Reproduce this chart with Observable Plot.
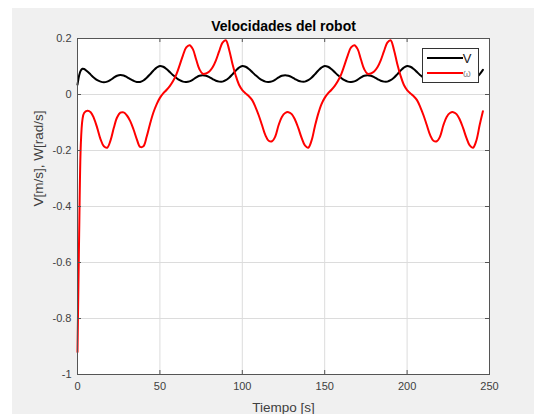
<!DOCTYPE html>
<html><head><meta charset="utf-8">
<script src="https://cdn.jsdelivr.net/npm/d3@7"></script>
<script src="https://cdn.jsdelivr.net/npm/@observablehq/plot@0.6"></script>
<style>
body{margin:0;background:#fff;}
#wrap{position:relative;width:534px;height:414px;overflow:hidden;}
#bg{position:absolute;left:12px;top:8px;width:522px;height:406px;background:#f0f0f0;}
#chart{position:absolute;left:0;top:0;}
</style></head><body>
<div id="wrap"><div id="bg"></div><div id="chart"></div></div>
<script>
const time = [0,1,2,3,4,6,8,10,12,14,16,18,20,22,24,26,28,30,32,34,36,38,40,42,44,46,48,50,
 52,54,56,58,60,62,64,66,68,70,72,74,76,78,80,82,84,86,88,90,92,94,96,98,100,
 102,104,106,108,110,112,114,116,118,120,122,124,126,128,130,132,134,136,138,140,142,144,146,148,150,
 152,154,156,158,160,162,164,166,168,170,172,174,176,178,180,182,184,186,188,190,192,194,196,198,200,
 202,204,206,208,210,212,214,216,218,220,222,224,226,228,230,232,234,236,238,240,242,244,246];

const V = [0.035,0.068,0.086,0.092,0.091,0.082,0.071,0.06,0.051,0.046,0.044,0.046,0.052,0.06,0.067,0.07,0.068,0.062,0.055,0.049,0.045,0.045,0.05,0.06,0.072,0.085,0.096,0.102,
 0.099,0.091,0.08,0.069,0.059,0.051,0.046,0.045,0.047,0.053,0.061,0.067,0.069,0.067,0.062,0.055,0.049,0.046,0.046,0.051,0.06,0.072,0.085,0.096,0.102,
 0.099,0.091,0.08,0.069,0.059,0.051,0.046,0.045,0.047,0.053,0.061,0.067,0.069,0.067,0.062,0.055,0.049,0.046,0.046,0.051,0.06,0.072,0.085,0.096,0.102,
 0.099,0.091,0.08,0.069,0.059,0.051,0.046,0.045,0.047,0.053,0.061,0.067,0.069,0.067,0.062,0.055,0.049,0.046,0.046,0.051,0.06,0.072,0.085,0.096,0.102,
 0.099,0.091,0.08,0.069,0.059,0.051,0.046,0.045,0.047,0.053,0.061,0.067,0.069,0.067,0.062,0.055,0.049,0.046,0.046,0.051,0.06,0.072,0.088];

const W = [-0.92,-0.5,-0.18,-0.09,-0.066,-0.058,-0.063,-0.085,-0.12,-0.16,-0.185,-0.19,-0.165,-0.12,-0.082,-0.065,-0.064,-0.075,-0.095,-0.125,-0.16,-0.187,-0.185,-0.15,-0.105,-0.065,-0.035,-0.012,
 0.004,0.016,0.03,0.048,0.072,0.105,0.14,0.168,0.176,0.162,0.125,0.09,0.074,0.075,0.082,0.097,0.122,0.155,0.185,0.194,0.16,0.11,0.068,0.035,0.016,
 0.004,-0.006,-0.02,-0.045,-0.075,-0.11,-0.145,-0.165,-0.167,-0.15,-0.11,-0.08,-0.066,-0.063,-0.07,-0.09,-0.12,-0.155,-0.182,-0.19,-0.165,-0.115,-0.07,-0.035,-0.012,
 0.004,0.016,0.03,0.048,0.072,0.105,0.14,0.168,0.176,0.162,0.125,0.09,0.074,0.075,0.082,0.097,0.122,0.155,0.185,0.194,0.16,0.11,0.068,0.035,0.016,
 0.004,-0.006,-0.02,-0.045,-0.075,-0.11,-0.145,-0.165,-0.167,-0.15,-0.11,-0.08,-0.066,-0.063,-0.07,-0.09,-0.12,-0.155,-0.182,-0.19,-0.165,-0.11,-0.06];

const xTicks = [0,50,100,150,200,250];
const yTicks = [-1,-0.8,-0.6,-0.4,-0.2,0,0.2];
const title = "Velocidades del robot";
const xLabel = "Tiempo [s]";
const yLabel = "V[m/s], W[rad/s]";
const seriesNames = ["V","ω"];
const seriesColors = ["#000000","#ff0000"];

const rows = time.flatMap((t,i)=>[{t, value:V[i], s:seriesNames[0]},{t, value:W[i], s:seriesNames[1]}]);
const font = "'Liberation Sans', Arial, Helvetica, sans-serif";
const width = 534, height = 414, mL = 77, mR = 45, mT = 38, mB = 40;
const frameW = width - mL - mR, frameH = height - mT - mB;
const axisColor = "#555";

const plot = Plot.plot({
  width, height, marginLeft: mL, marginRight: mR, marginTop: mT, marginBottom: mB,
  style: {background: "transparent", fontFamily: font, fontSize: "11px", color: "#404040", overflow: "visible"},
  x: {domain: [0, 250]},
  y: {domain: [-1, 0.2]},
  color: {domain: seriesNames, range: seriesColors},
  marks: [
    Plot.frame({fill: "white", stroke: null}),
    Plot.gridX(xTicks, {stroke: "#dcdcdc", strokeOpacity: 1}),
    Plot.gridY(yTicks, {stroke: "#dcdcdc", strokeOpacity: 1}),
    Plot.line(rows, {x: "t", y: "value", z: "s", stroke: "s", strokeWidth: 2, curve: "catmull-rom"}),
    Plot.ruleX(xTicks, {insetTop: frameH - 4, stroke: axisColor}),
    Plot.ruleX(xTicks, {insetBottom: frameH - 4, stroke: axisColor}),
    Plot.ruleY(yTicks, {insetRight: frameW - 4, stroke: axisColor}),
    Plot.ruleY(yTicks, {insetLeft: frameW - 4, stroke: axisColor}),
    Plot.frame({stroke: axisColor}),
    Plot.axisX(xTicks, {tickSize: 0, tickPadding: 8, label: null, tickFormat: d => String(d)}),
    Plot.axisY(yTicks, {tickSize: 0, tickPadding: 6, label: null, tickFormat: d => String(d)}),
    Plot.text([title], {text: d => d, frameAnchor: "top", dy: -8, lineAnchor: "bottom", fontWeight: "bold", fontSize: 14, fill: "#000"}),
    Plot.text([xLabel], {text: d => d, frameAnchor: "bottom", dy: 37, lineAnchor: "bottom", fontSize: 13.5, fill: "#404040"}),
    Plot.text([yLabel], {text: d => d, frameAnchor: "left", dx: -39, rotate: -90, fontSize: 13.5, fill: "#404040"})
  ]
});
document.getElementById("chart").appendChild(plot);

// legend
const svg = d3.select(plot);
const lg = svg.append("g").attr("font-family", font);
lg.append("rect").attr("x", 422.5).attr("y", 48.5).attr("width", 56).attr("height", 34)
  .attr("fill", "white").attr("stroke", "#333");
seriesNames.forEach((name, i) => {
  const yy = 58 + i * 15;
  lg.append("line").attr("x1", 427).attr("x2", 463).attr("y1", yy).attr("y2", yy)
    .attr("stroke", seriesColors[i]).attr("stroke-width", 2);
  lg.append("text").attr("x", 467).attr("y", yy).attr("dy", "0.35em")
    .attr("font-size", i === 0 ? 13 : 10).attr("fill", i === 0 ? "#222" : "#888").text(name);
});
</script>
</body></html>
